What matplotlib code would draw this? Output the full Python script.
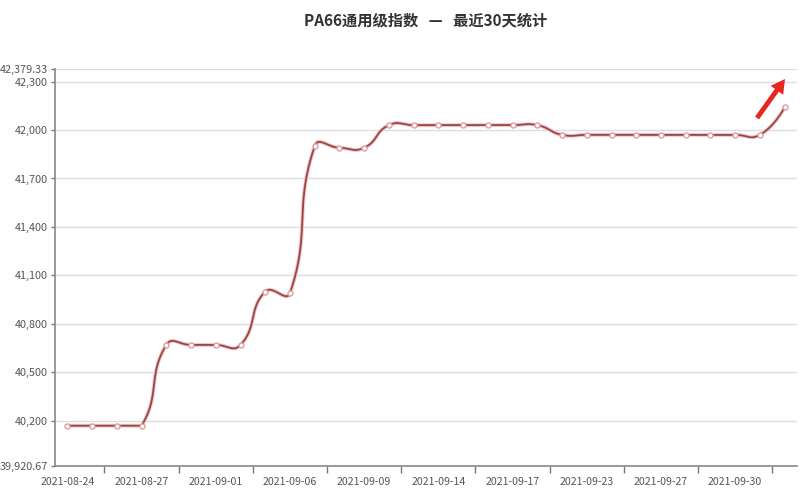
import numpy as np
import matplotlib
matplotlib.use("Agg")
import matplotlib.pyplot as plt

plt.rcParams['font.family'] = ['Noto Sans CJK SC', 'DejaVu Sans']

# trading days (labels shown every 3rd)
dates = ["2021-08-24", "2021-08-25", "2021-08-26", "2021-08-27", "2021-08-30",
         "2021-08-31", "2021-09-01", "2021-09-02", "2021-09-03", "2021-09-06",
         "2021-09-07", "2021-09-08", "2021-09-09", "2021-09-10", "2021-09-13",
         "2021-09-14", "2021-09-15", "2021-09-16", "2021-09-17", "2021-09-18",
         "2021-09-22", "2021-09-23", "2021-09-24", "2021-09-26", "2021-09-27",
         "2021-09-28", "2021-09-29", "2021-09-30", "2021-10-08", "2021-10-09"]
values = [40170, 40170, 40170, 40170, 40670, 40670, 40670, 40670, 41000, 40990,
          41900, 41890, 41890, 42030, 42030, 42030, 42030, 42030, 42030, 42030,
          41970, 41970, 41970, 41970, 41970, 41970, 41970, 41970, 41970, 42140]
y_min = 39920.67
y_max = 42379.33
y_ticks = [40200, 40500, 40800, 41100, 41400, 41700, 42000, 42300]

# axes box in pixels
AX_L, AX_R, AX_T, AX_B = 55, 797, 68.7, 466


def smooth_line(xs, ys, sx, sy, k=0.5, n=24):
    # bezier smoothing in screen units, control points kept inside the
    # bounding box of the points
    P = np.column_stack([np.asarray(xs, float) * sx, np.asarray(ys, float) * sy])
    lo, hi = P.min(axis=0), P.max(axis=0)
    m = len(P)
    t = np.linspace(0, 1, n, endpoint=False)[:, None]
    out = []
    cp0 = P[0].copy()
    for i in range(1, m):
        p = P[i]
        if i == m - 1:
            cp1 = p.copy()
            v = np.zeros(2)
            r = 0.5
        else:
            v = P[i + 1] - P[i - 1]
            lp = np.hypot(*(p - P[i - 1]))
            ln = np.hypot(*(P[i + 1] - p))
            r = ln / (ln + lp)
            cp1 = p - v * k * (1 - r)
        cp0 = np.clip(cp0, lo, hi)
        cp1 = np.clip(cp1, lo, hi)
        a = P[i - 1]
        out.append((1 - t)**3 * a + 3 * (1 - t)**2 * t * cp0 + 3 * (1 - t) * t**2 * cp1 + t**3 * p)
        cp0 = p + v * k * r
    out.append(P[-1:])
    out = np.vstack(out)
    return out[:, 0] / sx, out[:, 1] / sy


fig = plt.figure(figsize=(8, 5), dpi=100)
ax = fig.add_axes([AX_L / 800, 1 - AX_B / 500, (AX_R - AX_L) / 800, (AX_B - AX_T) / 500])

x = np.arange(len(values))
px_per_x = (AX_R - AX_L) / len(values)
px_per_y = (AX_B - AX_T) / (y_max - y_min)
cx, cy = smooth_line(x, values, px_per_x, px_per_y)
ax.plot(cx, cy, color='#efc8c8', lw=2.8, solid_capstyle='round', zorder=3)
ax.plot(cx, cy, color='#9c4444', lw=1.3, zorder=4)
ax.scatter(x, values, s=13, facecolor='white', edgecolor='#d9a0a0', lw=1.0, zorder=5)

ax.set_xlim(-0.5, len(values) - 0.5)
ax.set_ylim(y_min, y_max)

ax.set_yticks([y_min] + y_ticks + [y_max])
ax.set_yticklabels(["{:,.2f}".format(y_min)] + ["{:,}".format(v) for v in y_ticks]
                   + ["{:,.2f}".format(y_max)])
for v in y_ticks + [y_max]:
    ax.axhline(v, color='#dddddd', lw=1, zorder=1)

ax.set_xticks(x[::3])
ax.set_xticklabels(dates[::3])
ax.set_xticks(np.arange(1.5, len(values) - 0.5, 3), minor=True)
ax.tick_params(axis='x', which='major', length=0, pad=8, labelsize=7.6, labelcolor='#555555')
ax.tick_params(axis='x', which='minor', length=5, width=1, color='#777777', direction='out')
ax.tick_params(axis='y', length=3, width=1, color='#777777', pad=2, labelsize=7.8,
               labelcolor='#555555')

for side in ['top', 'right']:
    ax.spines[side].set_visible(False)
for side in ['left', 'bottom']:
    ax.spines[side].set_color('#888888')
    ax.spines[side].set_linewidth(1.2)

fig.text(426 / 800, 1 - 20 / 500, "PA66通用级指数   —   最近30天统计", ha='center', va='center',
         fontsize=11, fontweight='bold', color='#333333')

# red arrow top right
ax.annotate("", xy=(785 / 800, 1 - 79 / 500), xytext=(757 / 800, 1 - 118 / 500),
            xycoords='figure fraction', textcoords='figure fraction',
            arrowprops=dict(arrowstyle='simple,head_width=1.1,head_length=1.0,tail_width=0.35',
                            color='#e8251f', lw=0, shrinkA=0, shrinkB=0))

fig.savefig("out.png", dpi=100)
